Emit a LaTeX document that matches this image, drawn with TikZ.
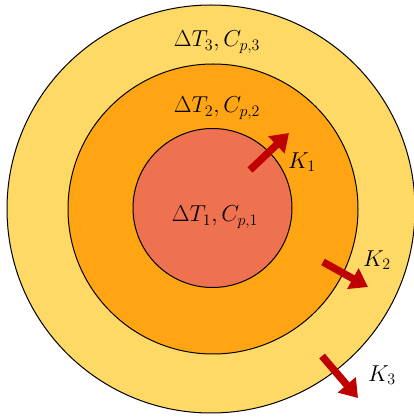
\documentclass[tikz,border=0pt]{standalone}
\usetikzlibrary{arrows.meta}
\definecolor{outerc}{RGB}{255,217,102}
\definecolor{midc}{RGB}{255,164,18}
\definecolor{innerc}{RGB}{238,113,80}
\definecolor{arrc}{RGB}{192,0,0}
\begin{document}
\begin{tikzpicture}[x=0.75pt,y=0.75pt,
  ring/.style={circle,draw=black,line width=0.75pt,inner sep=0pt},
  flux/.style={draw=arrc,line width=5.5pt,-{Triangle[length=13pt,width=17pt]}},
  lbl/.style={inner sep=0pt,font=\LARGE}]
\useasboundingbox (0,0) rectangle (414,418);
\node[ring,fill=outerc,minimum size=408*0.75pt] (outer) at (211,209) {};
\node[ring,fill=midc,minimum size=290*0.75pt] (mid) at (213,209) {};
\node[ring,fill=innerc,minimum size=159*0.75pt] (inner) at (212.5,210) {};
\node[lbl] (t3) at (217,376) {$\Delta T_3, C_{p,3}$};
\node[lbl] (t2) at (217,310) {$\Delta T_2, C_{p,2}$};
\node[lbl] (t1) at (215,201) {$\Delta T_1, C_{p,1}$};
\coordinate (a1s) at (250,248);
\coordinate (a1e) at (289,285);
\coordinate (a2s) at (323,156);
\coordinate (a2e) at (368,131);
\coordinate (a3s) at (322,62);
\coordinate (a3e) at (358,20);
\draw[flux] (a1s) -- (a1e);
\draw[flux] (a2s) -- (a2e);
\draw[flux] (a3s) -- (a3e);
\node[lbl] (k1) at (302,256) {$K_1$};
\node[lbl] (k2) at (377,158) {$K_2$};
\node[lbl] (k3) at (382,43) {$K_3$};
\end{tikzpicture}
\end{document}
